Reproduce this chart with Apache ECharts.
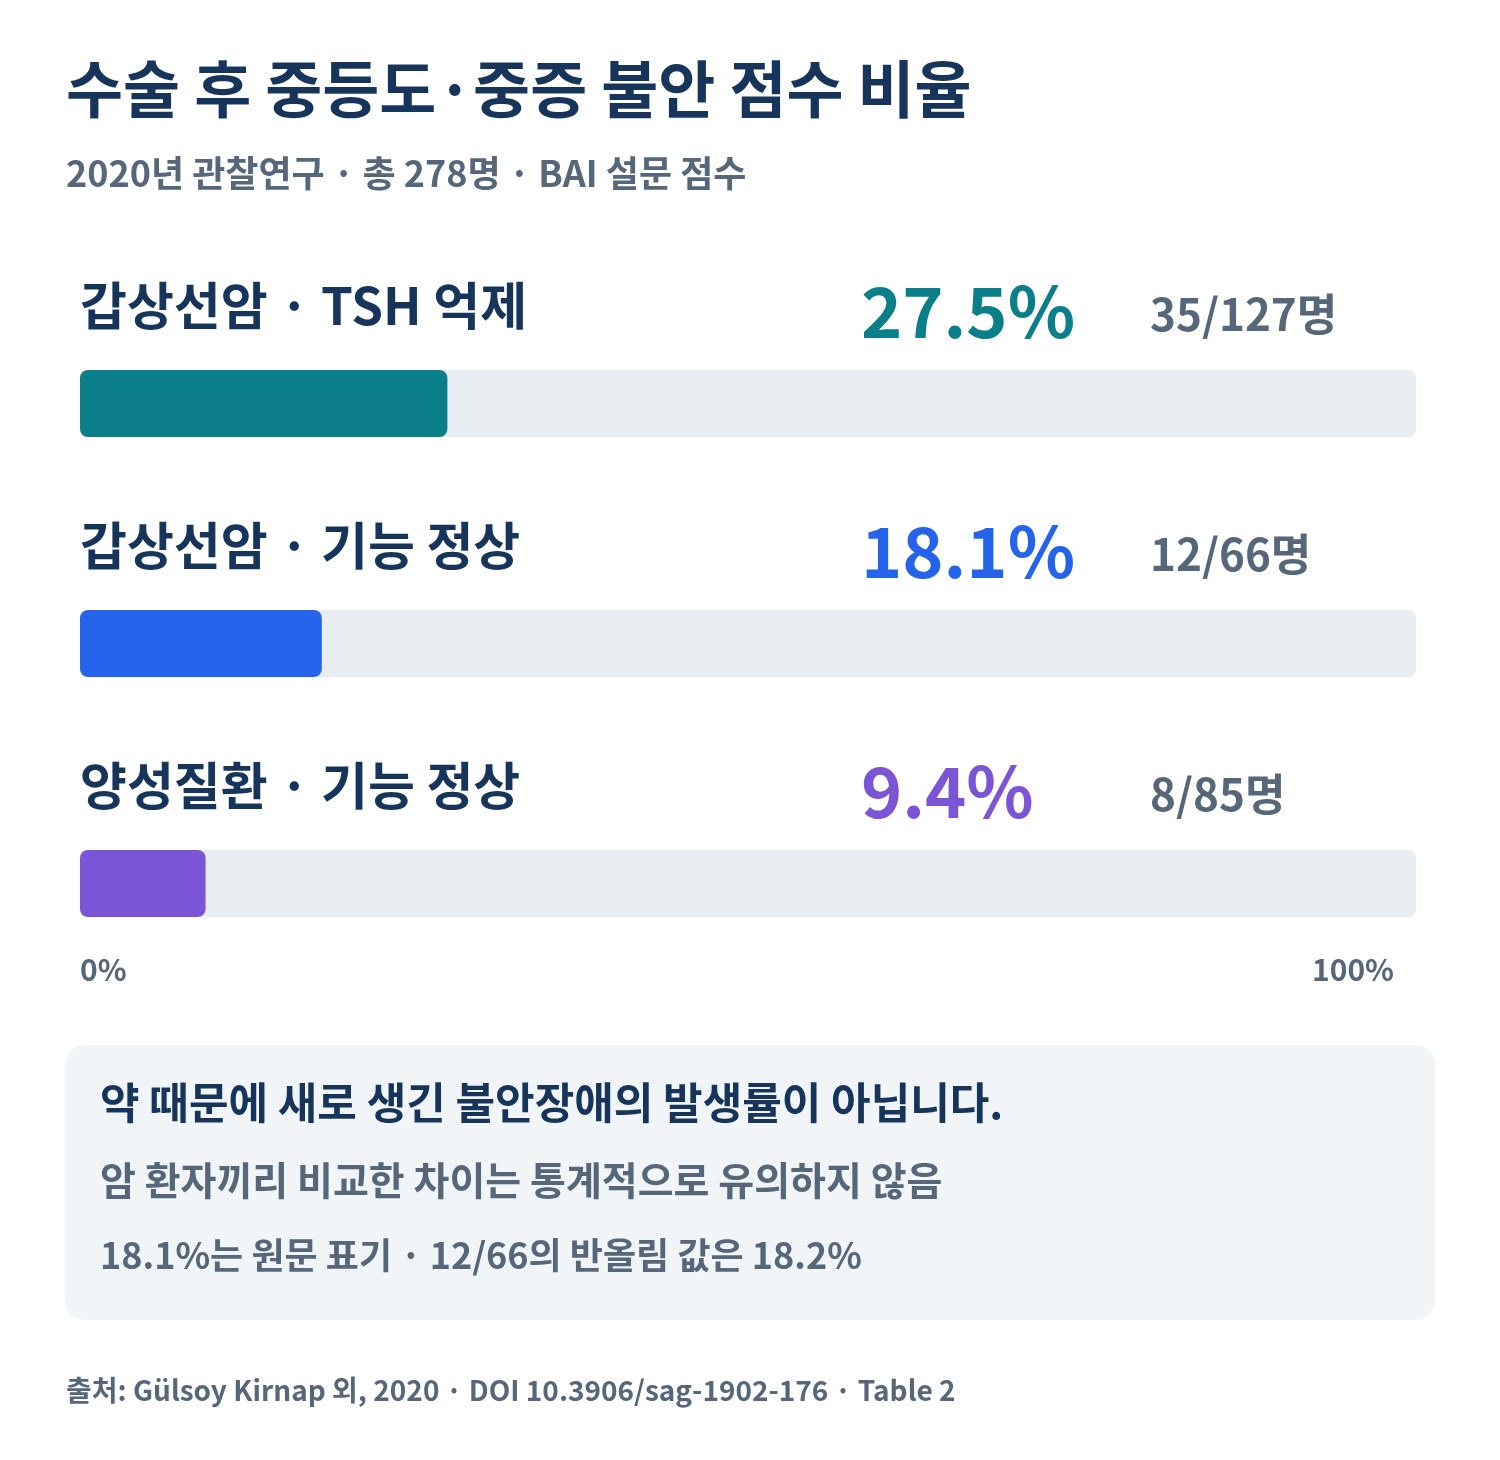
<!DOCTYPE html>
<html>
<head>
<meta charset="utf-8">
<script src="https://cdn.jsdelivr.net/npm/echarts@6/dist/echarts.min.js"></script>
<style>
html,body{margin:0;padding:0;background:#ffffff;}
#chart{width:1500px;height:1460px;}
</style>
</head>
<body>
<div id="chart"></div>
<script>
var categories = ['갑상선암 · TSH 억제', '갑상선암 · 기능 정상', '양성질환 · 기능 정상'];
var percentValues = [27.5, 18.1, 9.4];
var percentLabels = ['27.5%', '18.1%', '9.4%'];
var countLabels = ['35/127명', '12/66명', '8/85명'];
var barColors = ['#0a7f8a', '#2563eb', '#7b55d5'];
var tickLabels = ['0%', '100%'];

var FONT = '"Noto Sans CJK KR", "Noto Sans", sans-serif';
var NAVY = '#17355a';
var GRAY = '#56677a';

var chart = echarts.init(document.getElementById('chart'), null, {renderer: 'canvas'});

var mainData = percentValues.map(function (v, i) {
  return {value: v, itemStyle: {color: barColors[i]}};
});

var option = {
  backgroundColor: '#ffffff',
  animation: false,
  grid: {left: 80, right: 84, top: 283.5, bottom: 456.5, containLabel: false},
  xAxis: {
    type: 'value', min: 0, max: 100, interval: 100,
    splitLine: {show: false}, axisLine: {show: false}, axisTick: {show: false},
    axisLabel: {
      show: true, margin: -49, fontFamily: FONT, fontSize: 30, fontWeight: 600, color: GRAY,
      alignMinLabel: 'left', alignMaxLabel: 'right',
      formatter: function (v) { return v === 0 ? tickLabels[0] : tickLabels[1]; },
      padding: [0, 22, 0, 0]
    }
  },
  yAxis: {
    type: 'category', data: categories, inverse: true,
    axisLine: {show: false}, axisTick: {show: false}, axisLabel: {show: false}
  },
  series: [
    {
      type: 'bar', data: mainData, barWidth: 67, barGap: '-100%',
      showBackground: true,
      backgroundStyle: {color: '#e8edf1', borderRadius: 8},
      itemStyle: {borderRadius: 8},
      label: {
        show: true, position: [0, -64], verticalAlign: 'middle', align: 'left',
        formatter: function (p) { return categories[p.dataIndex]; },
        fontFamily: FONT, fontSize: 51, fontWeight: 700, color: NAVY
      },
      z: 3
    },
    {
      type: 'bar', data: percentValues.map(function (v, i) {
        return {value: v, label: {color: barColors[i]}};
      }), barWidth: 67, barGap: '-100%',
      itemStyle: {color: 'rgba(0,0,0,0)'}, silent: true,
      label: {
        show: true, position: [781, -59], verticalAlign: 'middle', align: 'left',
        formatter: function (p) { return percentLabels[p.dataIndex]; },
        fontFamily: FONT, fontSize: 70, fontWeight: 700
      },
      z: 4
    },
    {
      type: 'bar', data: percentValues, barWidth: 67, barGap: '-100%',
      itemStyle: {color: 'rgba(0,0,0,0)'}, silent: true,
      label: {
        show: true, position: [1070, -56], verticalAlign: 'middle', align: 'left',
        formatter: function (p) { return countLabels[p.dataIndex]; },
        fontFamily: FONT, fontSize: 44, fontWeight: 600, color: GRAY
      },
      z: 4
    }
  ],
  graphic: [
    {type: 'text', left: 66, top: 58, style: {text: '수술 후 중등도·중증 불안 점수 비율', font: '700 62px ' + FONT, fill: NAVY}},
    {type: 'text', left: 66, top: 155, style: {text: '2020년 관찰연구 · 총 278명 · BAI 설문 점수', font: '700 36px ' + FONT, fill: GRAY}},
    {type: 'rect', shape: {x: 65, y: 1045, width: 1370, height: 275, r: 20}, style: {fill: '#f1f5f8'}, z: -1},
    {type: 'text', left: 100, top: 1081, style: {text: '약 때문에 새로 생긴 불안장애의 발생률이 아닙니다.', font: '700 43px ' + FONT, fill: NAVY}},
    {type: 'text', left: 100, top: 1161, style: {text: '암 환자끼리 비교한 차이는 통계적으로 유의하지 않음', font: '600 39px ' + FONT, fill: GRAY}},
    {type: 'text', left: 100, top: 1237, style: {text: '18.1%는 원문 표기 · 12/66의 반올림 값은 18.2%', font: '600 36px ' + FONT, fill: GRAY}},
    {type: 'text', left: 66, top: 1376, style: {text: '출처: Gülsoy Kirnap 외, 2020 · DOI 10.3906/sag-1902-176 · Table 2', font: '600 28px ' + FONT, fill: GRAY}}
  ]
};

chart.setOption(option);
</script>
</body>
</html>
